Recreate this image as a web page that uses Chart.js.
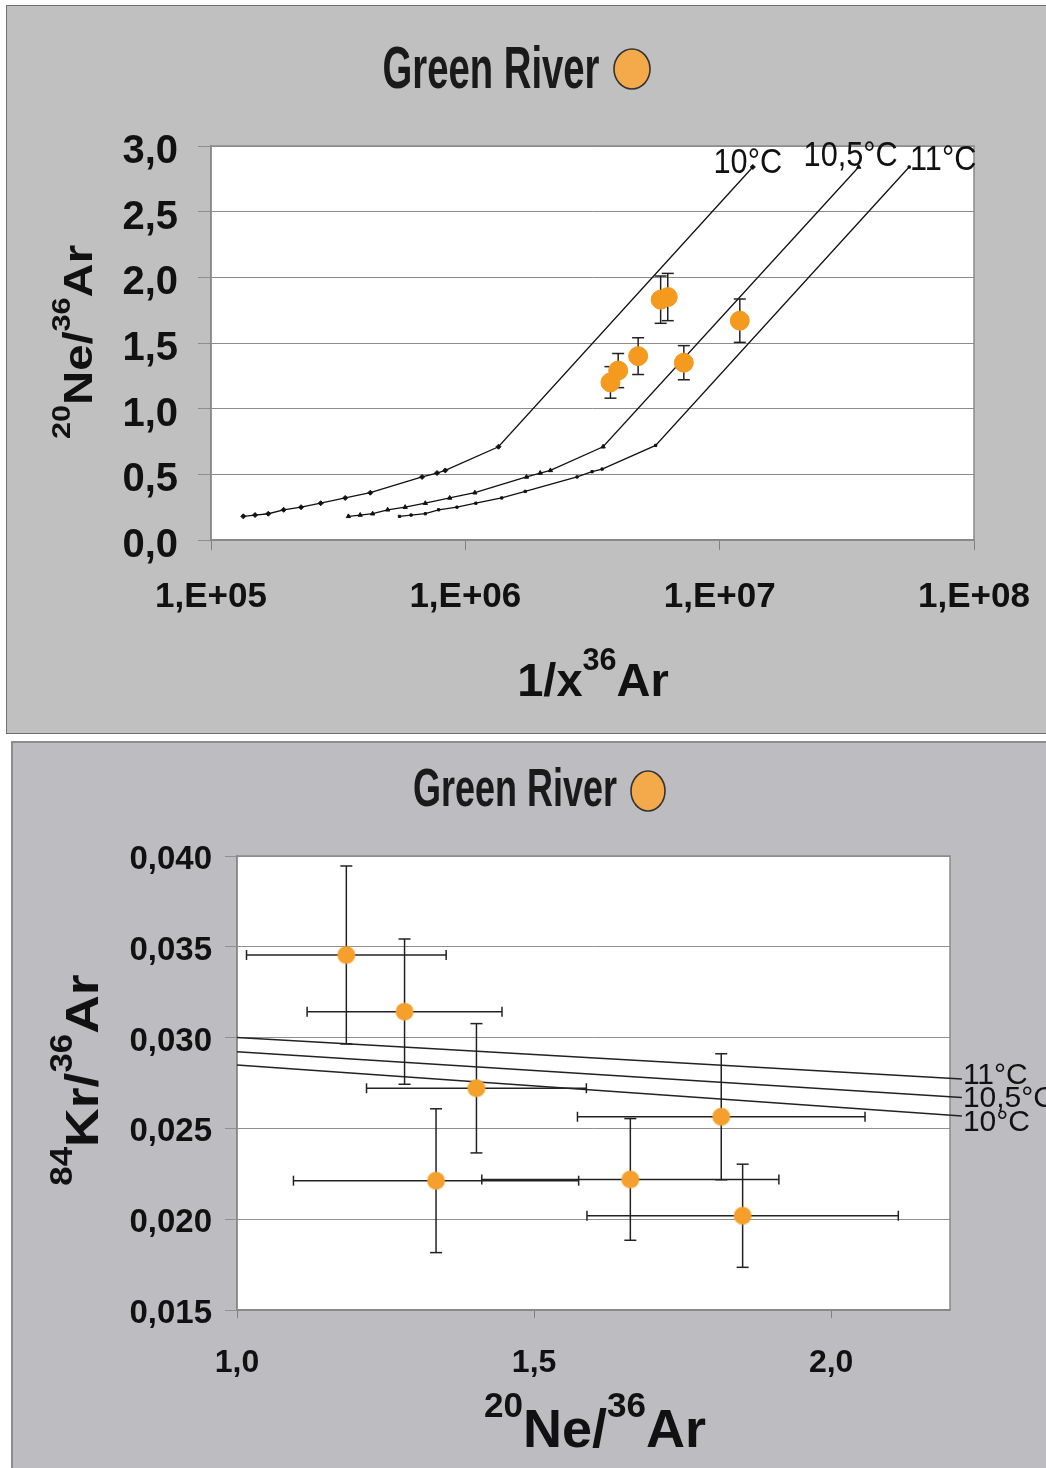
<!DOCTYPE html>
<html><head><meta charset="utf-8">
<script src="https://cdn.jsdelivr.net/npm/chart.js@4.4.1/dist/chart.umd.min.js"></script>
<style>
html,body{margin:0;padding:0;background:#fff;width:1046px;height:1468px;overflow:hidden;}
#p1{position:absolute;left:6px;top:5px;width:1045px;height:729px;background:#c0c0c0;border:1.5px solid #6e6e6e;box-sizing:border-box;}
#p2{position:absolute;left:11px;top:741px;width:1040px;height:732px;background:#bdbcc1;border:2px solid #8c8c90;box-sizing:border-box;}
#w1{position:absolute;left:0;top:0;width:1046px;height:736px;}
#w2{position:absolute;left:0;top:738px;width:1046px;height:730px;}
canvas{display:block;}
</style></head><body>
<div id="p1"></div><div id="p2"></div>
<div id="w1"><canvas id="c1" width="1046" height="736" style="width:1046px;height:736px"></canvas></div>
<div id="w2"><canvas id="c2" width="1046" height="730" style="width:1046px;height:730px"></canvas></div>
<script>
// ---------------- DATA: top chart (20Ne/36Ar vs 1/x36Ar) ----------------
const titleText = 'Green River';
const xTicksTop = [1e5, 1e6, 1e7, 1e8];
const xTickLabelsTop = ['1,E+05', '1,E+06', '1,E+07', '1,E+08'];
const yTicksTop = [0, 0.5, 1, 1.5, 2, 2.5, 3];
const yTickLabelsTop = ['0,0', '0,5', '1,0', '1,5', '2,0', '2,5', '3,0'];
const modelLabelsTop = ['10°C', '10,5°C', '11°C'];
const t10X  = [1.34e5, 1.49e5, 1.68e5, 1.93e5, 2.26e5, 2.70e5, 3.37e5, 4.23e5, 6.76e5, 7.74e5, 8.34e5, 1.35e6, 1.35e7];
const t10Y  = [0.18, 0.19, 0.20, 0.23, 0.25, 0.28, 0.32, 0.36, 0.48, 0.51, 0.53, 0.71, 2.84];
const t105X = [3.47e5, 3.86e5, 4.32e5, 4.95e5, 5.80e5, 6.96e5, 8.68e5, 1.09e6, 1.74e6, 1.97e6, 2.16e6, 3.48e6, 3.52e7];
const t105Y = [0.18, 0.19, 0.20, 0.23, 0.25, 0.28, 0.32, 0.36, 0.48, 0.51, 0.53, 0.71, 2.84];
const t11X  = [5.51e5, 6.12e5, 6.96e5, 7.85e5, 9.27e5, 1.10e6, 1.39e6, 1.72e6, 2.75e6, 3.15e6, 3.45e6, 5.60e6, 5.56e7];
const t11Y  = [0.18, 0.19, 0.20, 0.23, 0.25, 0.28, 0.32, 0.37, 0.48, 0.52, 0.54, 0.72, 2.84];
const sampleX = [3.72e6, 3.99e6, 4.78e6, 5.86e6, 6.25e6, 7.23e6, 1.20e7];
const sampleY = [1.20, 1.29, 1.40, 1.83, 1.85, 1.35, 1.67];
const sampleYErr = [0.12, 0.13, 0.14, 0.18, 0.18, 0.13, 0.165];

// ---------------- DATA: bottom chart (84Kr/36Ar vs 20Ne/36Ar) ----------------
const xTicksBot = [1.0, 1.5, 2.0];
const xTickLabelsBot = ['1,0', '1,5', '2,0'];
const yTicksBot = [0.015, 0.020, 0.025, 0.030, 0.035, 0.040];
const yTickLabelsBot = ['0,015', '0,020', '0,025', '0,030', '0,035', '0,040'];
const modelLabelsBot = ['11°C', '10,5°C', '10°C'];
const modelXBot = [1.0, 2.22];
const m11Y  = [0.03000, 0.02772];
const m105Y = [0.02922, 0.02670];
const m10Y  = [0.02849, 0.02568];
const krNe   = [1.184, 1.282, 1.403, 1.335, 1.662, 1.815, 1.851];
const krKr   = [0.03455, 0.03143, 0.02721, 0.02212, 0.02219, 0.02564, 0.02019];
const krNeErr = [0.168, 0.164, 0.185, 0.240, 0.250, 0.242, 0.262];
const krKrErr = [0.0049, 0.0040, 0.00356, 0.00396, 0.00335, 0.00347, 0.00284];

// ---------------- helpers ----------------
const FAM = "'Liberation Sans', Arial, sans-serif";
const ORANGE = '#f39a1f';
const pts = (xs, ys) => xs.map((x, i) => ({x: x, y: ys[i]}));

function richWidth(ctx, parts, S, sup) {
  let w = 0;
  for (const [t, s] of parts) { ctx.font = 'bold ' + (s ? S * sup : S) + 'px ' + FAM; w += ctx.measureText(t).width; }
  return w;
}
function drawRich(ctx, parts, x, y, S, opt) {
  const sup = 0.65;
  ctx.save();
  ctx.translate(x, y);
  if (opt.rot) ctx.rotate(-Math.PI / 2);
  ctx.scale(opt.sx || 1, 1);
  ctx.fillStyle = '#111'; ctx.textAlign = 'left'; ctx.textBaseline = 'alphabetic';
  let cx = -richWidth(ctx, parts, S, sup) / 2;
  for (const [t, s] of parts) {
    ctx.font = 'bold ' + (s ? S * sup : S) + 'px ' + FAM;
    ctx.fillText(t, cx, s ? -S * 0.56 : 0);
    cx += ctx.measureText(t).width;
  }
  ctx.restore();
}
function drawTitle(ctx, text, cx, base, S, targetW, circ) {
  ctx.save();
  ctx.font = 'bold ' + S + 'px ' + FAM;
  const w = ctx.measureText(text).width;
  ctx.translate(cx, base);
  ctx.scale(targetW / w, 1);
  ctx.fillStyle = '#1a1a1a'; ctx.textAlign = 'center'; ctx.textBaseline = 'alphabetic';
  ctx.fillText(text, 0, 0);
  ctx.restore();
  ctx.save();
  ctx.beginPath();
  ctx.ellipse(circ[0], circ[1], circ[2], circ[3], 0, 0, Math.PI * 2);
  ctx.fillStyle = '#f4aa4b'; ctx.fill();
  ctx.lineWidth = 1.6; ctx.strokeStyle = '#333'; ctx.stroke();
  ctx.restore();
}
const areaPlugin = {
  id: 'area',
  beforeDraw(chart) {
    const a = chart.chartArea, ctx = chart.ctx;
    ctx.save(); ctx.fillStyle = '#ffffff'; ctx.fillRect(a.left, a.top, a.right - a.left, a.bottom - a.top); ctx.restore();
  },
  beforeDatasetsDraw(chart) {
    const a = chart.chartArea, ctx = chart.ctx;
    ctx.save(); ctx.strokeStyle = '#8a8a8a'; ctx.lineWidth = 1.5;
    ctx.strokeRect(a.left, a.top, a.right - a.left, a.bottom - a.top); ctx.restore();
  }
};
function fixedTicks(values) {
  return function (scale) { scale.ticks = values.map(v => ({value: v})); };
}

// ---------------- top chart ----------------
const errTop = sampleX.map((x, i) => ({
  data: [{x: x, y: sampleY[i] - sampleYErr[i]}, {x: x, y: sampleY[i] + sampleYErr[i]}],
  showLine: true, borderColor: '#222', borderWidth: 1.5,
  pointStyle: 'line', pointRadius: 6, pointBorderColor: '#222', pointBorderWidth: 1.5
}));
const modelStyle = (ps, r) => ({showLine: true, borderColor: '#111', borderWidth: 1.3,
  pointStyle: ps, pointRadius: r, pointBackgroundColor: '#111', pointBorderColor: '#111', pointBorderWidth: 1});

new Chart(document.getElementById('c1'), {
  type: 'scatter',
  data: {datasets: [
    {data: pts(sampleX, sampleY), pointRadius: 9.5, pointBackgroundColor: ORANGE, pointBorderColor: ORANGE, pointBorderWidth: 1},
    ...errTop,
    Object.assign({data: pts(t10X, t10Y)}, modelStyle('rectRot', 2.5)),
    Object.assign({data: pts(t105X, t105Y)}, modelStyle('triangle', 2.5)),
    Object.assign({data: pts(t11X, t11Y)}, modelStyle('rect', 1.6))
  ]},
  options: {
    responsive: false, animation: false, events: [],
    layout: {padding: {top: 146, right: 72, bottom: 96, left: 0}},
    plugins: {legend: {display: false}, tooltip: {enabled: false}},
    scales: {
      x: {type: 'logarithmic', min: 1e5, max: 1e8,
        afterBuildTicks: fixedTicks(xTicksTop),
        afterFit: s => { s.height = 100; s.paddingLeft = 0; s.paddingRight = 0; },
        grid: {drawOnChartArea: false, drawTicks: true, tickLength: 10, color: '#808080'},
        border: {color: '#808080', width: 1.5},
        ticks: {autoSkip: false, maxRotation: 0, padding: 26, color: '#111',
          font: {family: FAM, size: 35, weight: 'bold'},
          callback: (v, i) => xTickLabelsTop[i]}},
      y: {min: 0, max: 3,
        afterBuildTicks: fixedTicks(yTicksTop),
        afterFit: s => { s.width = 211; },
        grid: {color: '#8c8c8c', lineWidth: 1, tickLength: 13},
        border: {color: '#808080', width: 1.5},
        ticks: {padding: 20, labelOffset: 6, color: '#111', font: {family: FAM, size: 40, weight: 'bold'},
          callback: (v, i) => yTickLabelsTop[i]}}
    }
  },
  plugins: [areaPlugin, {
    id: 'texts1',
    afterDraw(chart) {
      const ctx = chart.ctx;
      drawTitle(ctx, titleText, 491, 88, 60, 217, [632, 69, 18, 20]);
      drawRich(ctx, [['1/x', false], ['36', true], ['Ar', false]], 593, 696, 47, {});
      drawRich(ctx, [['20', true], ['Ne/', false], ['36', true], ['Ar', false]], 92, 342, 40, {rot: true, sx: 1.18});
      const n = chart.data.datasets.length;
      const offs = [[-5, 6], [-8, -1], [34, 3]];
      ctx.save();
      ctx.font = '33px ' + FAM; ctx.fillStyle = '#111'; ctx.textAlign = 'center'; ctx.textBaseline = 'alphabetic';
      for (let k = 0; k < 3; k++) {
        const meta = chart.getDatasetMeta(n - 3 + k);
        const p = meta.data[meta.data.length - 1];
        ctx.save();
        ctx.translate(p.x + offs[k][0], p.y + offs[k][1]);
        ctx.scale(0.93, 1.05);
        ctx.fillText(modelLabelsTop[k], 0, 0);
        ctx.restore();
      }
      ctx.restore();
    }
  }]
});

// ---------------- bottom chart ----------------
const errBotY = krNe.map((x, i) => ({
  data: [{x: x, y: krKr[i] - krKrErr[i]}, {x: x, y: krKr[i] + krKrErr[i]}],
  showLine: true, borderColor: '#222', borderWidth: 1.5,
  pointStyle: 'line', pointRadius: 6, pointBorderColor: '#222', pointBorderWidth: 1.5
}));
const errBotX = krNe.map((x, i) => ({
  data: [{x: x - krNeErr[i], y: krKr[i]}, {x: x + krNeErr[i], y: krKr[i]}],
  showLine: true, borderColor: '#222', borderWidth: 1.5,
  pointStyle: 'line', pointRotation: 90, pointRadius: 5, pointBorderColor: '#222', pointBorderWidth: 1.5
}));
const botLine = ys => ({data: pts(modelXBot, ys), showLine: true, borderColor: '#222', borderWidth: 1.5, pointRadius: 0, clip: false});

new Chart(document.getElementById('c2'), {
  type: 'scatter',
  data: {datasets: [
    {data: pts(krNe, krKr), pointRadius: 8.5, pointBackgroundColor: '#f5a02c', pointBorderColor: 'rgba(245,160,44,0.45)', pointBorderWidth: 2},
    ...errBotY, ...errBotX,
    botLine(m11Y), botLine(m105Y), botLine(m10Y)
  ]},
  options: {
    responsive: false, animation: false, events: [],
    layout: {padding: {top: 118, right: 96, bottom: 58, left: 0}},
    plugins: {legend: {display: false}, tooltip: {enabled: false}},
    scales: {
      x: {min: 1.0, max: 2.2,
        afterBuildTicks: fixedTicks(xTicksBot),
        afterFit: s => { s.height = 100; s.paddingLeft = 0; s.paddingRight = 0; },
        grid: {drawOnChartArea: false, drawTicks: true, tickLength: 8, color: '#808080'},
        border: {color: '#808080', width: 1.5},
        ticks: {autoSkip: false, maxRotation: 0, padding: 26, color: '#111',
          font: {family: FAM, size: 32, weight: 'bold'},
          callback: (v, i) => xTickLabelsBot[i]}},
      y: {min: 0.015, max: 0.040,
        afterBuildTicks: fixedTicks(yTicksBot),
        afterFit: s => { s.width = 237; },
        grid: {color: '#909090', lineWidth: 1, tickLength: 12},
        border: {color: '#808080', width: 1.5},
        ticks: {padding: 13, labelOffset: 4, color: '#111', font: {family: FAM, size: 33, weight: 'bold'},
          callback: (v, i) => yTickLabelsBot[i]}}
    }
  },
  plugins: [areaPlugin, {
    id: 'texts2',
    afterDraw(chart) {
      const ctx = chart.ctx;
      drawTitle(ctx, titleText, 515, 68, 54, 204, [648, 53, 17, 20]);
      drawRich(ctx, [['20', true], ['Ne/', false], ['36', true], ['Ar', false]], 595, 709, 54, {});
      drawRich(ctx, [['84', true], ['Kr/', false], ['36', true], ['Ar', false]], 98, 342, 47, {rot: true, sx: 1.14});
      const n = chart.data.datasets.length;
      const offs = [-3, 1, 7];
      ctx.save();
      ctx.font = '30px ' + FAM; ctx.fillStyle = '#111'; ctx.textAlign = 'left'; ctx.textBaseline = 'middle';
      for (let k = 0; k < 3; k++) {
        const meta = chart.getDatasetMeta(n - 3 + k);
        const p = meta.data[meta.data.length - 1];
        ctx.fillText(modelLabelsBot[k], p.x + 1, p.y + offs[k]);
      }
      ctx.restore();
    }
  }]
});
</script>
</body></html>
